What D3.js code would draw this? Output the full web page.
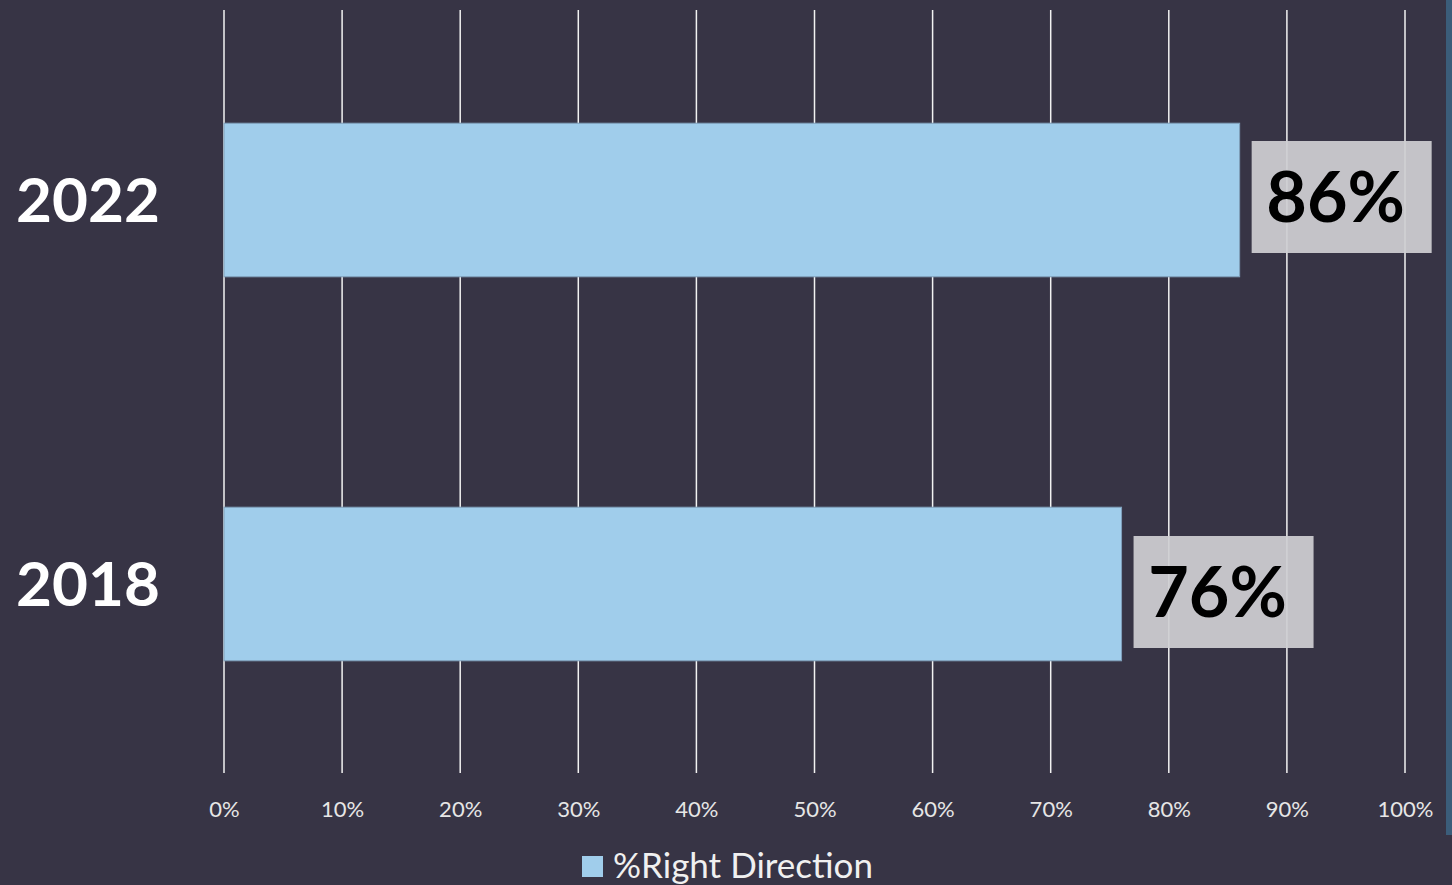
<!DOCTYPE html>
<html><head><meta charset="utf-8">
<script src="https://cdn.jsdelivr.net/npm/d3@7"></script>
<style>
html,body{margin:0;padding:0;background:#373445;}
svg{display:block;}
</style></head>
<body>
<script>
const categories = ["2022", "2018"];
const values = [86, 76];
const tickValues = [0,10,20,30,40,50,60,70,80,90,100];
const seriesName = "%Right Direction";

const W = 1452, H = 885;
const svg = d3.select("body").append("svg").attr("width", W).attr("height", H);
svg.append("rect").attr("width", W).attr("height", H).attr("fill", "#373445");
svg.append("rect").attr("x", 1446).attr("y", 0).attr("width", 6).attr("height", 835).attr("fill", "#3b5d7a");

const x = d3.scaleLinear().domain([0, 100]).range([224, 1405]);
const y = d3.scaleBand().domain(categories).range([8, 776]).paddingInner(0.6).paddingOuter(0.3);

// gridlines
svg.append("g").selectAll("line").data(tickValues).join("line")
  .attr("x1", d => x(d)).attr("x2", d => x(d))
  .attr("y1", 10).attr("y2", 773)
  .attr("stroke", "#f2f2f2").attr("stroke-width", 1.5);

// tick labels
const axis = d3.axisBottom(x).tickValues(tickValues).tickFormat(d => d + "%").tickSize(0).tickPadding(0);
const ag = svg.append("g").attr("transform", "translate(0,799)").call(axis);
ag.select(".domain").remove();
ag.selectAll("text").attr("fill", "#e6e6e6").attr("font-family", "Lato, 'Open Sans', sans-serif")
  .attr("font-size", 22).attr("dy", "0.8em");

// bars
svg.append("g").selectAll("rect").data(values).join("rect")
  .attr("x", x(0)).attr("y", (d,i) => y(categories[i]))
  .attr("width", d => x(d) - x(0)).attr("height", y.bandwidth())
  .attr("fill", "#a0cdeb").attr("stroke", "#7f9fba").attr("stroke-width", 1);

// value labels with boxes (label placement nudges, as in the source layout)
const boxShift = [-3, 8];
const lg = svg.append("g").selectAll("g").data(values).join("g")
  .attr("transform", (d,i) => `translate(${x(d) + 12},${y(categories[i]) + y.bandwidth()/2 + boxShift[i]})`);
lg.append("rect").attr("x", 0).attr("y", -56).attr("width", 180).attr("height", 112)
  .attr("fill", "#cfcfd2").attr("fill-opacity", 0.93);
lg.append("text").attr("x", 84).attr("y", 25).attr("text-anchor", "middle")
  .attr("font-family", "Lato, 'Open Sans', sans-serif").attr("font-weight", "bold")
  .attr("font-size", 70).attr("fill", "#000").text(d => d + "%");

// category labels
svg.append("g").selectAll("text").data(categories).join("text")
  .attr("x", 88).attr("y", d => y(d) + y.bandwidth()/2 + 22).attr("text-anchor", "middle")
  .attr("font-family", "Lato, 'Open Sans', sans-serif").attr("font-weight", "bold")
  .attr("font-size", 62).attr("fill", "#ffffff").text(d => d);

// legend
svg.append("rect").attr("x", 582).attr("y", 856).attr("width", 21).attr("height", 21).attr("fill", "#a0cdeb");
svg.append("text").attr("x", 613).attr("y", 878).attr("font-family", "Lato, 'Open Sans', sans-serif")
  .attr("font-size", 35).attr("fill", "#f0f0f0").text(seriesName);
</script>
</body></html>
